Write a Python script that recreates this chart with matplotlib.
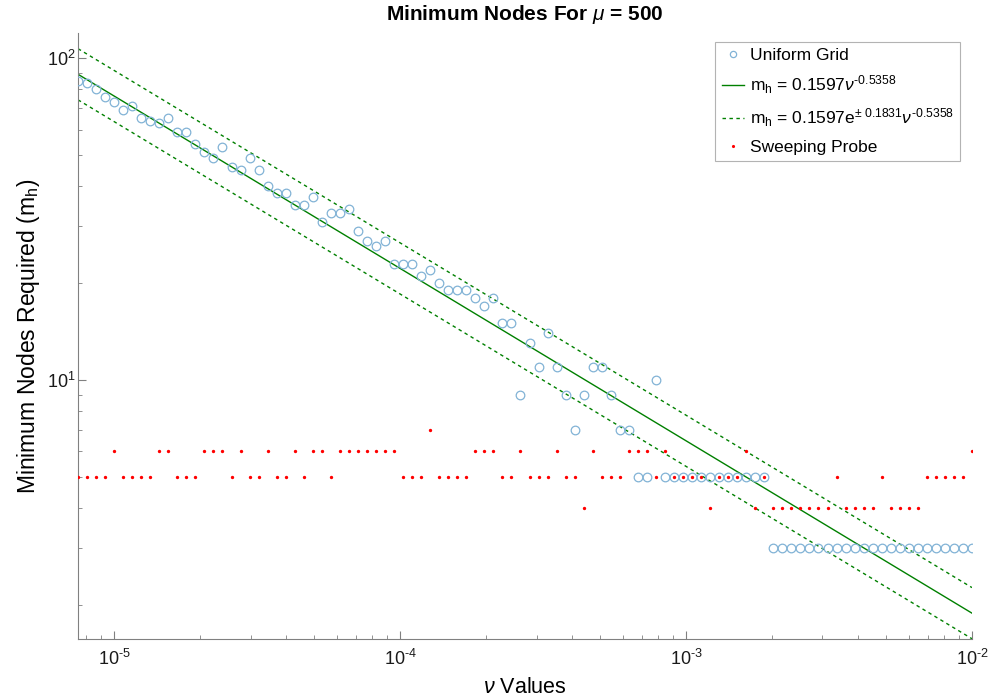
import numpy as np
import matplotlib
matplotlib.use("Agg")
import matplotlib.pyplot as plt
from matplotlib.ticker import LogLocator, NullFormatter, FixedLocator

plt.rcParams['font.family'] = ['Liberation Sans', 'DejaVu Sans']
plt.rcParams['mathtext.fontset'] = 'custom'
plt.rcParams['mathtext.rm'] = 'Liberation Sans'
plt.rcParams['mathtext.it'] = 'Liberation Sans:italic'
plt.rcParams['mathtext.bf'] = 'Liberation Sans:bold'

# ---- data ----
# nu grid: 100 log-spaced values from ~7.47e-6 to 1e-2
nu = np.logspace(-5 - 12 / 95, -2, 100)

uniform_grid = [85, 84, 80, 76, 73, 69, 71, 65, 64, 63,
                65, 59, 59, 54, 51, 49, 53, 46, 45, 49,
                45, 40, 38, 38, 35, 35, 37, 31, 33, 33,
                34, 29, 27, 26, 27, 23, 23, 23, 21, 22,
                20, 19, 19, 19, 18, 17, 18, 15, 15, 9,
                13, 11, 14, 11, 9, 7, 9, 11, 11, 9,
                7, 7, 5, 5, 10, 5, 5, 5, 5, 5,
                5, 5, 5, 5, 5, 5, 5, 3, 3, 3,
                3, 3, 3, 3, 3, 3, 3, 3, 3, 3,
                3, 3, 3, 3, 3, 3, 3, 3, 3, 3]

sweeping_probe = [5, 5, 5, 5, 6, 5, 5, 5, 5, 6,
                  6, 5, 5, 5, 6, 6, 6, 5, 6, 5,
                  5, 6, 5, 5, 6, 5, 6, 6, 5, 6,
                  6, 6, 6, 6, 6, 6, 5, 5, 5, 7,
                  5, 5, 5, 5, 6, 6, 6, 5, 5, 6,
                  5, 5, 5, 6, 5, 5, 4, 6, 5, 5,
                  5, 6, 6, 6, 5, 6, 5, 5, 5, 5,
                  4, 5, 5, 5, 6, 4, 5, 4, 4, 4,
                  4, 4, 4, 4, 5, 4, 4, 4, 4, 5,
                  4, 4, 4, 4, 5, 5, 5, 5, 5, 6]

coef = 0.1597
expo = -0.5358
band = 0.1831

x_ticks = [1e-5, 1e-4, 1e-3, 1e-2]
x_ticklabels = ['10$^{\u20105}$', '10$^{\u20104}$', '10$^{\u20103}$', '10$^{\u20102}$']
y_ticks = [1e1, 1e2]
y_ticklabels = ['10$^{1}$', '10$^{2}$']

fit = coef * nu ** expo
fit_hi = coef * np.exp(band) * nu ** expo
fit_lo = coef * np.exp(-band) * nu ** expo

# ---- figure ----
fig = plt.figure(figsize=(9.9, 7.0), dpi=100)
ax = fig.add_axes([0.0788, 0.0871, 0.9030, 0.8662])

green = '#008000'
ax.plot(nu, uniform_grid, 'o', markerfacecolor='none', markeredgecolor='#82b3d6',
        markersize=6.2, markeredgewidth=0.9, label='Uniform Grid', zorder=3)
ax.plot(nu, fit, '-', color=green, lw=1.0,
        label='m$_\\mathregular{h}$ = 0.1597$\\nu^{\\mathregular{\u20100.5358}}$', zorder=2)
ax.plot(nu, fit_hi, '--', color=green, lw=1.0, dashes=(2.5, 2.5),
        label='m$_\\mathregular{h}$ = 0.1597e$^{\\mathregular{\\pm\\ 0.1831}}\\nu^{\\mathregular{\u20100.5358}}$',
        zorder=2)
ax.plot(nu, fit_lo, '--', color=green, lw=1.0, dashes=(2.5, 2.5), zorder=2)
ax.plot(nu, sweeping_probe, '.', color='#ff0000', markersize=2.8,
        label='Sweeping Probe', zorder=4)

ax.set_xscale('log')
ax.set_yscale('log')
ax.set_xlim(nu[0], nu[-1])
ax.set_ylim(1.565, 120)

ax.xaxis.set_major_locator(FixedLocator(x_ticks))
ax.xaxis.set_minor_locator(LogLocator(base=10, subs=np.arange(2, 10), numticks=20))
ax.yaxis.set_major_locator(FixedLocator(y_ticks))
ax.yaxis.set_minor_locator(LogLocator(base=10, subs=np.arange(2, 10), numticks=20))
ax.xaxis.set_minor_formatter(NullFormatter())
ax.yaxis.set_minor_formatter(NullFormatter())
ax.set_xticklabels(x_ticklabels)
ax.set_yticklabels(y_ticklabels)

spine_col = '#808080'
for s in ['top', 'right']:
    ax.spines[s].set_visible(False)
for s in ['left', 'bottom']:
    ax.spines[s].set_color(spine_col)
    ax.spines[s].set_linewidth(0.8)
ax.tick_params(which='both', direction='in', color=spine_col, labelcolor='#1a1a1a',
               labelsize=13)
ax.tick_params(which='major', length=6, width=0.8)
ax.tick_params(which='minor', length=3, width=0.6)
ax.tick_params(axis='x', which='major', pad=7)
ax.tick_params(axis='y', which='major', pad=2)

ax.set_title(r'Minimum Nodes For $\mu$ = 500', fontsize=15, fontweight='bold', pad=9)
ax.set_xlabel(r'$\nu$ Values', fontsize=15.5, labelpad=6)
ax.set_ylabel(r'Minimum Nodes Required (m$_\mathregular{h}$)', fontsize=16.5, labelpad=3)

leg = ax.legend(loc='upper right', fontsize=12.5, frameon=True, fancybox=False,
                edgecolor='#a0a0a0', handlelength=1.3, handletextpad=0.35,
                borderpad=0.35, labelspacing=0.6, borderaxespad=0,
                bbox_to_anchor=(0.987, 0.985))
leg.get_frame().set_linewidth(0.8)
hs = leg.legend_handles
hs[0].set_markersize(4.5)
hs[3].set_markersize(2.5)

fig.savefig('out.png', dpi=100)
